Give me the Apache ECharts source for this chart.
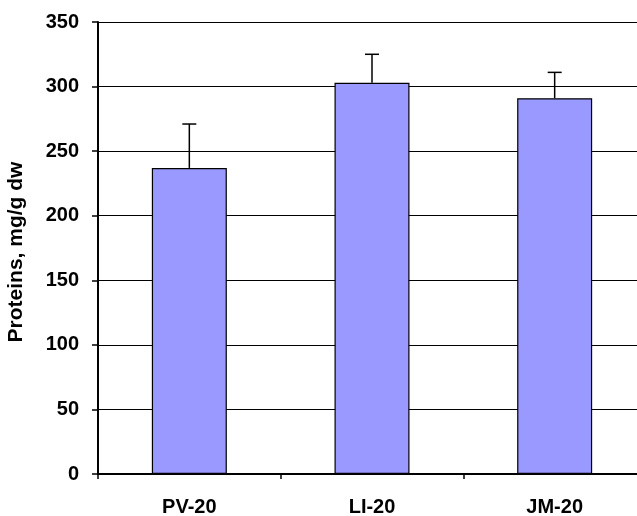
<!DOCTYPE html>
<html><head><meta charset="utf-8">
<script src="https://cdn.jsdelivr.net/npm/echarts@6/dist/echarts.min.js"></script>
<style>html,body{margin:0;padding:0;background:#fff;overflow:hidden}#c{width:646px;height:516px}</style>
</head><body><div id="c"></div>
<script>
var categories = ['PV-20', 'LI-20', 'JM-20'];
var proteins = [237, 303, 291];
var errors = [34, 22, 20];
var yTicks = [0, 50, 100, 150, 200, 250, 300, 350];

var chart = echarts.init(document.getElementById('c'));
var font = 'Arial, "Liberation Sans", sans-serif';
chart.setOption({
  animation: false,
  grid: { left: 98, top: 22, bottom: 42, right: 0, containLabel: false, outerBoundsMode: 'none' },
  xAxis: {
    type: 'category', data: categories,
    axisLine: { lineStyle: { color: '#000', width: 2 } },
    axisTick: { show: true, length: 5, lineStyle: { color: '#000', width: 1.5 } },
    axisLabel: { color: '#000', fontWeight: 'bold', fontSize: 20, fontFamily: font, margin: 23 }
  },
  yAxis: {
    type: 'value', min: 0, max: 350, interval: 50,
    name: 'Proteins, mg/g dw', nameLocation: 'middle', nameGap: 71,
    nameTextStyle: { color: '#000', fontWeight: 'bold', fontSize: 21, fontFamily: font, padding: [0, 8, 0, 0] },
    axisLine: { show: true, lineStyle: { color: '#000', width: 2 } },
    axisTick: { show: true, length: 6, lineStyle: { color: '#000', width: 1.5 } },
    axisLabel: { color: '#000', fontWeight: 'bold', fontSize: 20, fontFamily: font, margin: 19 },
    splitLine: { show: true, lineStyle: { color: '#000', width: 1.2 } }
  },
  series: [
    {
      type: 'bar', data: proteins, barWidth: 75,
      itemStyle: { color: '#9999FF', borderColor: '#000', borderWidth: 1.2 },
      z: 2
    },
    {
      type: 'custom', z: 3,
      data: categories.map(function (c, i) { return [i, proteins[i], proteins[i] + errors[i]]; }),
      renderItem: function (params, api) {
        var base = api.coord([api.value(0), api.value(1)]);
        var top = api.coord([api.value(0), api.value(2)]);
        var hw = 7;
        return {
          type: 'group',
          children: [
            { type: 'line', shape: { x1: base[0], y1: base[1], x2: top[0], y2: top[1] }, style: { stroke: '#000', lineWidth: 1.5 } },
            { type: 'line', shape: { x1: top[0] - hw, y1: top[1], x2: top[0] + hw, y2: top[1] }, style: { stroke: '#000', lineWidth: 1.5 } }
          ]
        };
      }
    }
  ]
});
</script></body></html>
